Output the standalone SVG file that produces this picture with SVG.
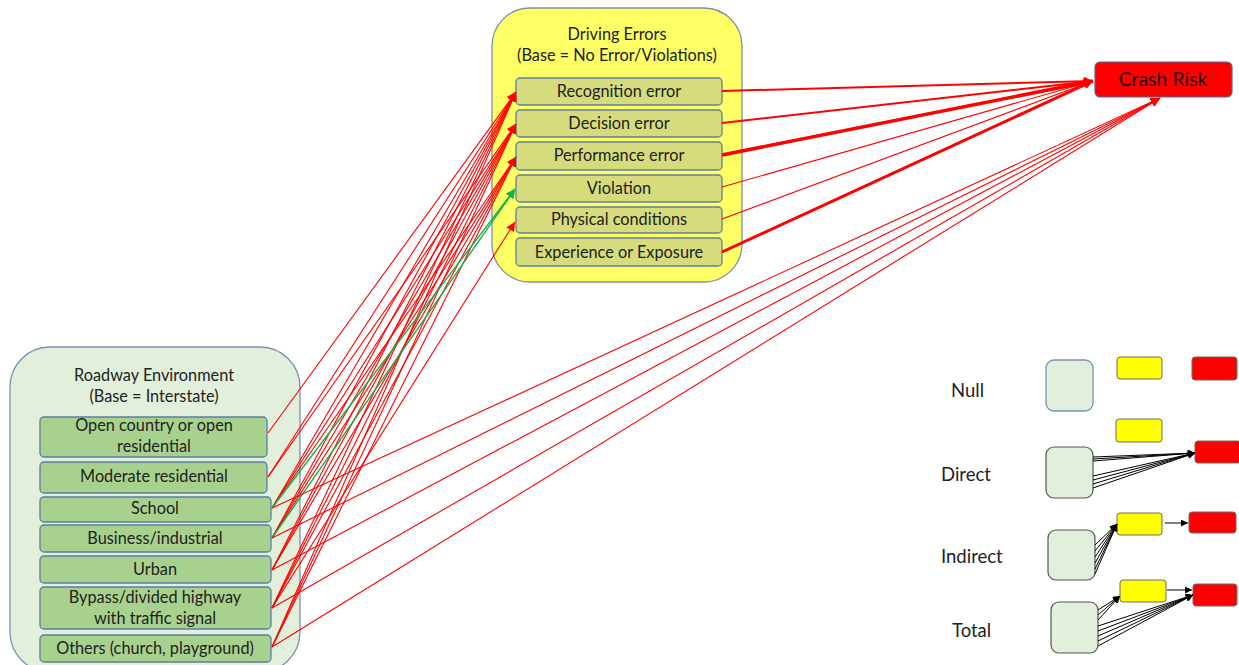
<svg xmlns="http://www.w3.org/2000/svg" width="1239" height="665" viewBox="0 0 1239 665">
<style>
text{font-family:Lato,"Open Sans","Liberation Sans",sans-serif;fill:#222;text-anchor:middle}
.t{font-size:16.3px}
.lg{font-size:18.5px;text-anchor:start}
.big-y{fill:#ffff66;stroke:#7f8fa6;stroke-width:1.3}
.big-g{fill:#e2efda;stroke:#7892b5;stroke-width:1.3}
.in-y{fill:#d6dc7c;stroke:#5f7f9f;stroke-width:1.3}
.in-g{fill:#a9d18e;stroke:#5b7ea8;stroke-width:1.3}
.r{stroke:#ff0000;fill:none;stroke-width:1.1;marker-end:url(#ar)}
.gr{stroke:#17b04a;fill:none;stroke-width:1.4;marker-end:url(#ag)}
.k{stroke:#000;fill:none;stroke-width:1;marker-end:url(#ak)}
.ly{fill:#ffff00;stroke:#6b6b6b;stroke-width:1}
.lr{fill:#ff0000;stroke:#6b6b6b;stroke-width:1}
.lgb{fill:#e2efda;stroke:#555;stroke-width:1.2}
</style>
<defs>
<marker id="ar" viewBox="0 0 10 10" refX="10" refY="5" markerWidth="11" markerHeight="9" markerUnits="userSpaceOnUse" orient="auto"><path d="M0,0 L10,5 L0,10 z" fill="#ff0000"/></marker>
<marker id="ag" viewBox="0 0 10 10" refX="10" refY="5" markerWidth="11" markerHeight="9" markerUnits="userSpaceOnUse" orient="auto"><path d="M0,0 L10,5 L0,10 z" fill="#17b04a"/></marker>
<marker id="ak" viewBox="0 0 10 10" refX="10" refY="5" markerWidth="8" markerHeight="7" markerUnits="userSpaceOnUse" orient="auto"><path d="M0,0 L10,5 L0,10 z" fill="#000"/></marker>
</defs>

<g id="driving-errors">
<rect class="big-y" x="492" y="8" width="250" height="274" rx="38"/>
<text class="t" x="617" y="40">Driving Errors</text>
<text class="t" x="617" y="61">(Base = No Error/Violations)</text>
<rect class="in-y" x="516" y="78" width="206" height="27" rx="4"/>
<text class="t" x="619" y="97">Recognition error</text>
<rect class="in-y" x="516" y="110" width="206" height="27" rx="4"/>
<text class="t" x="619" y="129">Decision error</text>
<rect class="in-y" x="516" y="142" width="206" height="28" rx="4"/>
<text class="t" x="619" y="161">Performance error</text>
<rect class="in-y" x="516" y="175" width="206" height="27" rx="4"/>
<text class="t" x="619" y="194">Violation</text>
<rect class="in-y" x="516" y="207" width="206" height="26" rx="4"/>
<text class="t" x="619" y="225">Physical conditions</text>
<rect class="in-y" x="516" y="238" width="206" height="28" rx="4"/>
<text class="t" x="619" y="258">Experience or Exposure</text>
</g>

<g id="crash-risk">
<rect x="1095" y="62" width="137" height="35" rx="5" fill="#ff0000" stroke="#41719c" stroke-width="1.2"/>
<text x="1163" y="86" style="font-size:19.5px;fill:#200000">Crash Risk</text>
</g>

<g id="roadway-environment">
<rect class="big-g" x="10" y="347" width="290" height="325" rx="40"/>
<text class="t" x="154" y="381">Roadway Environment</text>
<text class="t" x="154" y="402">(Base = Interstate)</text>
<rect class="in-g" x="40" y="417" width="227" height="40" rx="4"/>
<text class="t" x="154" y="431">Open country or open</text>
<text class="t" x="154" y="452">residential</text>
<rect class="in-g" x="40" y="462" width="227" height="31" rx="4"/>
<text class="t" x="154" y="482">Moderate residential</text>
<rect class="in-g" x="40" y="497" width="231" height="25" rx="4"/>
<text class="t" x="155" y="514">School</text>
<rect class="in-g" x="40" y="525" width="231" height="27" rx="4"/>
<text class="t" x="155" y="544">Business/industrial</text>
<rect class="in-g" x="40" y="556" width="231" height="27" rx="4"/>
<text class="t" x="155" y="575">Urban</text>
<rect class="in-g" x="40" y="587" width="231" height="42" rx="4"/>
<text class="t" x="155" y="603">Bypass/divided highway</text>
<text class="t" x="155" y="624">with traffic signal</text>
<rect class="in-g" x="40" y="635" width="231" height="27" rx="4"/>
<text class="t" x="155" y="654">Others (church, playground)</text>
</g>

<g id="connectors">
<line class="r" x1="268" y1="433" x2="516" y2="92"/>
<line class="r" x1="268" y1="477" x2="516" y2="92"/>
<line class="r" x1="268" y1="477" x2="516" y2="124"/>
<line class="r" x1="272" y1="508" x2="516" y2="92"/>
<line class="r" x1="272" y1="508" x2="516" y2="124"/>
<line class="r" x1="272" y1="508" x2="516" y2="157"/>
<line class="r" x1="272" y1="538" x2="516" y2="92"/>
<line class="r" x1="272" y1="538" x2="516" y2="124"/>
<line class="r" x1="272" y1="538" x2="516" y2="157"/>
<line class="r" x1="272" y1="570" x2="516" y2="92"/>
<line class="r" x1="272" y1="570" x2="516" y2="124"/>
<line class="r" x1="272" y1="570" x2="516" y2="157"/>
<line class="r" x1="272" y1="608" x2="516" y2="92"/>
<line class="r" x1="272" y1="608" x2="516" y2="124"/>
<line class="r" x1="272" y1="608" x2="516" y2="157"/>
<line class="r" x1="272" y1="608" x2="515" y2="222"/>
<line class="r" x1="272" y1="647" x2="516" y2="92"/>
<line class="r" x1="272" y1="647" x2="516" y2="124"/>
<line class="r" x1="272" y1="647" x2="516" y2="157"/>
<line class="gr" x1="272" y1="508" x2="515" y2="189"/>
<line class="gr" x1="272" y1="538" x2="515" y2="189"/>
<line class="r" x1="272" y1="508" x2="1160" y2="98"/>
<line class="r" x1="272" y1="538" x2="1160" y2="98"/>
<line class="r" x1="272" y1="570" x2="1160" y2="98"/>
<line class="r" x1="272" y1="608" x2="1160" y2="98"/>
<line class="r" x1="272" y1="647" x2="1160" y2="98"/>
<line class="r" style="stroke-width:2" x1="722" y1="91" x2="1093" y2="81"/>
<line class="r" style="stroke-width:2" x1="722" y1="123" x2="1093" y2="81"/>
<line class="r" style="stroke-width:3.5" x1="722" y1="155" x2="1093" y2="81"/>
<line class="r" x1="722" y1="187" x2="1093" y2="81"/>
<line class="r" x1="722" y1="219" x2="1093" y2="81"/>
<line class="r" style="stroke-width:3" x1="722" y1="252" x2="1093" y2="81"/>
</g>

<g id="legend">
<text class="lg" x="951" y="397">Null</text>
<rect class="big-g" x="1046" y="360" width="47" height="51" rx="8"/>
<rect class="ly" x="1117" y="357" width="45" height="22" rx="3"/>
<rect class="lr" x="1192" y="357" width="45" height="23" rx="3"/>

<text class="lg" x="941" y="481">Direct</text>
<rect class="ly" x="1116" y="419" width="46" height="23" rx="3"/>
<rect class="lr" x="1195" y="441" width="46" height="22" rx="3"/>
<rect class="lgb" x="1046" y="447" width="47" height="51" rx="8"/>
<line class="k" x1="1093" y1="457" x2="1195" y2="453"/>
<line class="k" x1="1093" y1="459" x2="1195" y2="453"/>
<line class="k" x1="1093" y1="461" x2="1195" y2="453"/>
<line class="k" x1="1093" y1="476" x2="1195" y2="453"/>
<line class="k" x1="1093" y1="480" x2="1195" y2="453"/>
<line class="k" x1="1093" y1="484" x2="1195" y2="453"/>
<line class="k" x1="1093" y1="488" x2="1195" y2="453"/>

<text class="lg" x="941" y="563">Indirect</text>
<rect class="lgb" x="1048" y="530" width="47" height="50" rx="8"/>
<rect class="ly" x="1117" y="513" width="45" height="22" rx="3"/>
<rect class="lr" x="1189" y="512" width="47" height="21" rx="3"/>
<line class="k" x1="1095" y1="545" x2="1117" y2="524"/>
<line class="k" x1="1095" y1="551" x2="1117" y2="524"/>
<line class="k" x1="1095" y1="557" x2="1117" y2="524"/>
<line class="k" x1="1095" y1="563" x2="1117" y2="524"/>
<line class="k" x1="1095" y1="569" x2="1117" y2="524"/>
<line class="k" x1="1095" y1="574" x2="1117" y2="524"/>
<line class="k" x1="1165" y1="523" x2="1188" y2="523"/>

<text class="lg" x="952" y="637">Total</text>
<rect class="lgb" x="1051" y="602" width="47" height="51" rx="8"/>
<rect class="ly" x="1120" y="580" width="46" height="22" rx="3"/>
<rect class="lr" x="1193" y="584" width="44" height="22" rx="3"/>
<line class="k" x1="1098" y1="610" x2="1120" y2="596"/>
<line class="k" x1="1098" y1="615" x2="1120" y2="596"/>
<line class="k" x1="1098" y1="620" x2="1120" y2="596"/>
<line class="k" x1="1098" y1="626" x2="1193" y2="595"/>
<line class="k" x1="1098" y1="631" x2="1193" y2="595"/>
<line class="k" x1="1098" y1="636" x2="1193" y2="595"/>
<line class="k" x1="1098" y1="641" x2="1193" y2="595"/>
<line class="k" x1="1098" y1="646" x2="1193" y2="595"/>
<line class="k" x1="1167" y1="590" x2="1192" y2="590"/>
</g>
</svg>
